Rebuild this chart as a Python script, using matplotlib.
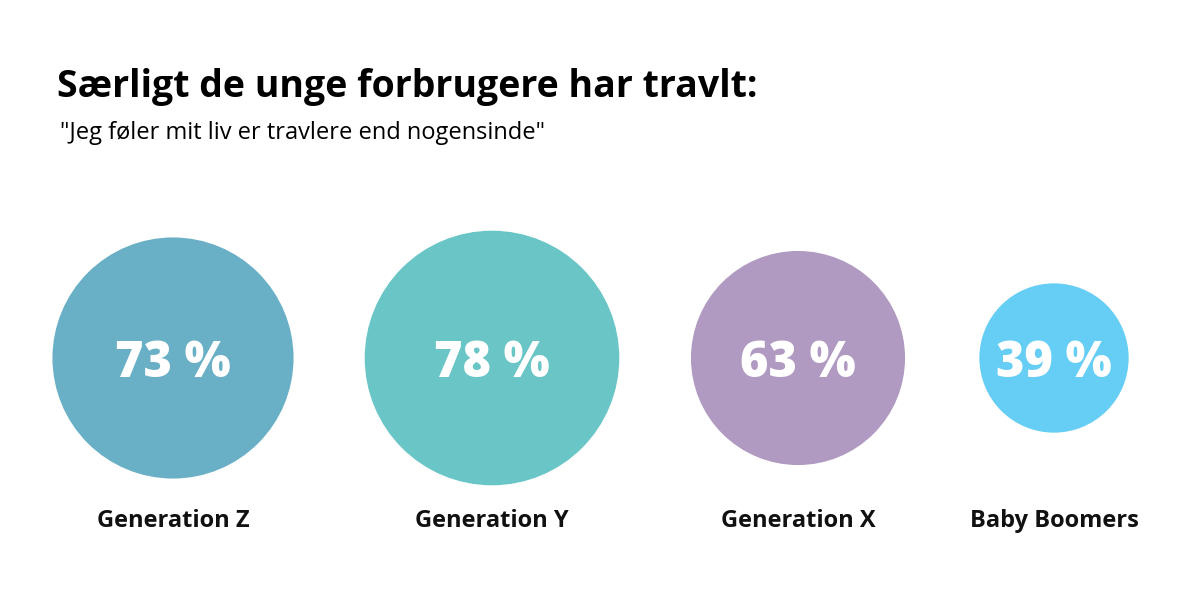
import matplotlib
matplotlib.use("Agg")
import matplotlib.pyplot as plt
from matplotlib.patches import Circle

categories = ["Generation Z", "Generation Y", "Generation X", "Baby Boomers"]
values = [73, 78, 63, 39]
colors = ["#69AFC6", "#69C5C6", "#B09AC2", "#66CEF5"]

title = "Særligt de unge forbrugere har travlt:"
subtitle = "\"Jeg føler mit liv er travlere end nogensinde\""

fig = plt.figure(figsize=(12, 6), dpi=100)
ax = fig.add_axes([0, 0, 1, 1])
ax.set_xlim(0, 1200)
ax.set_ylim(600, 0)
ax.set_aspect("equal")
ax.axis("off")

centers_x = [173, 492, 798, 1054]
cy = 358

for cx, v, c, cat in zip(centers_x, values, colors, categories):
    r = 22 + 1.35 * v
    ax.add_patch(Circle((cx, cy), r, color=c, lw=0))
    ax.text(cx, cy + 6, f"{v} %", ha="center", va="center", color="white",
            fontsize=35, fontweight="heavy", family="Open Sans")
    ax.text(cx, 521, cat, ha="center", va="center", color="#111111",
            fontsize=17, fontweight="bold", family="Open Sans")

ax.text(57, 97, title, ha="left", va="baseline", fontsize=27,
        fontweight="bold", family="Open Sans", color="#000000")
ax.text(60, 139, subtitle, ha="left", va="baseline", fontsize=17,
        family="Open Sans", color="#000000")

fig.savefig("out.png", dpi=100, facecolor="white")
